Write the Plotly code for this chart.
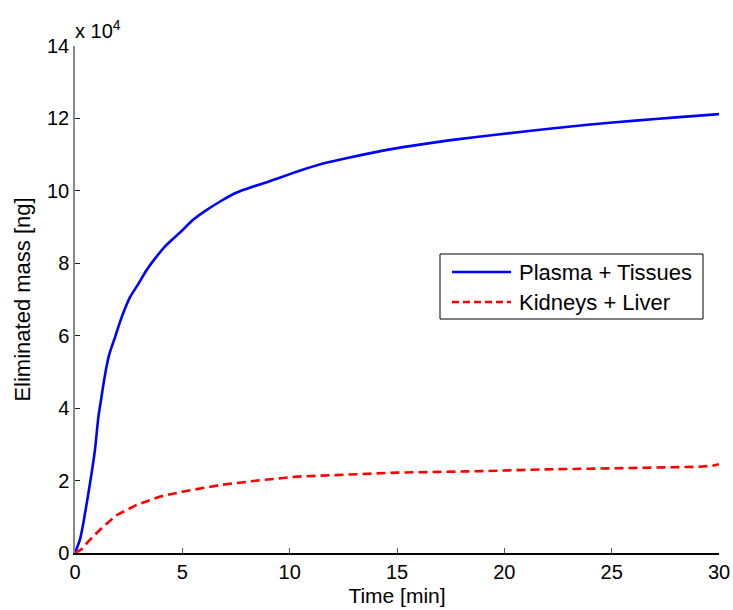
import plotly.graph_objects as go

# Time [min]
t_plasma = [0, 0.23, 0.39, 0.70, 0.93, 1.09, 1.21, 1.33, 1.47, 1.61, 1.87, 2.18, 2.57,
            2.96, 3.3, 3.66, 4.25, 4.91, 5.5, 6.0, 6.8, 7.56, 8.2, 9.04, 10.5, 11.6,
            12.85, 14.0, 15.2, 17.5, 19.9, 22.2, 24.0, 26.1, 28.0, 30.0]
# Eliminated mass [ng] x 10^4
m_plasma = [0, 0.37, 0.83, 1.93, 2.85, 3.76, 4.22, 4.68, 5.15, 5.51, 5.97, 6.52, 7.07,
            7.44, 7.78, 8.08, 8.50, 8.86, 9.20, 9.42, 9.72, 9.96, 10.10, 10.26, 10.56, 10.76,
            10.93, 11.07, 11.2, 11.4, 11.57, 11.72, 11.83, 11.94, 12.03, 12.12]

t_kidney = [0, 0.3, 0.70, 1.32, 1.95, 2.88, 3.97, 5.06, 6.78, 8.49, 10.36, 13.0, 15.0,
            18.9, 21.9, 25.2, 29.0, 29.7, 30.0]
m_kidney = [0, 0.1, 0.37, 0.73, 1.05, 1.33, 1.56, 1.70, 1.88, 2.0, 2.11, 2.18, 2.22,
            2.26, 2.31, 2.34, 2.38, 2.41, 2.45]

names = ["Plasma + Tissues", "Kidneys + Liver"]
x_ticks = [0, 5, 10, 15, 20, 25, 30]
y_ticks = [0, 2, 4, 6, 8, 10, 12, 14]

FONT = "Liberation Sans, Arial, sans-serif"

fig = go.Figure()
fig.add_trace(go.Scatter(x=t_plasma, y=m_plasma, mode="lines", name=names[0],
                         line=dict(color="#0000FF", width=2.6, shape="spline", smoothing=0.6),
                         showlegend=False))
fig.add_trace(go.Scatter(x=t_kidney, y=m_kidney, mode="lines", name=names[1],
                         line=dict(color="#FF0000", width=2.6, dash="9px,5px"),
                         showlegend=False))

# Manual legend (MATLAB-style, long line samples)
lx0, lx1 = (440 - 75) / 644, (703 - 75) / 644
ly0, ly1 = (553 - 319) / 507, (553 - 254) / 507
fig.add_shape(type="rect", xref="paper", yref="paper", x0=lx0, x1=lx1, y0=ly0, y1=ly1,
              line=dict(color="black", width=1), fillcolor="white", layer="above")
rows = [(553 - 272) / 507, (553 - 302) / 507]
styles = [dict(color="#0000FF", width=2.6), dict(color="#FF0000", width=2.6, dash="7px,4px")]
for name, ry, st in zip(names, rows, styles):
    fig.add_shape(type="line", xref="paper", yref="paper",
                  x0=(452 - 75) / 644, x1=(511 - 75) / 644, y0=ry, y1=ry,
                  line=st, layer="above")
    fig.add_annotation(xref="paper", yref="paper", x=(517 - 75) / 644, y=ry,
                       xanchor="left", yanchor="middle", text=name, showarrow=False,
                       font=dict(family=FONT, size=22, color="black"))

fig.add_annotation(xref="paper", yref="paper", x=0, y=1.0, xanchor="left", yanchor="bottom",
                   text="x 10<sup>4</sup>", showarrow=False, xshift=-2, yshift=2,
                   font=dict(family=FONT, size=20, color="black"))

fig.update_layout(
    width=733, height=610,
    margin=dict(l=75, r=14, t=46, b=57),
    plot_bgcolor="white", paper_bgcolor="white",
    font=dict(family=FONT, size=20, color="black"),
    xaxis=dict(range=[0, 30], tickvals=x_ticks, ticks="inside", ticklen=5,
               tickcolor="#555555", showline=True, linecolor="black", linewidth=1.5,
               showgrid=False, zeroline=False, mirror=False, automargin=False,
               title=dict(text="Time [min]", font=dict(size=21), standoff=7)),
    yaxis=dict(range=[0, 14], tickvals=y_ticks, ticks="inside", ticklen=5,
               tickcolor="#222222", showline=True, linecolor="#888888", linewidth=1.5,
               showgrid=False, zeroline=False, mirror=False, automargin=False,
               title=dict(text="Eliminated mass [ng]", font=dict(size=22), standoff=10)),
)

fig.write_html("out.html")
